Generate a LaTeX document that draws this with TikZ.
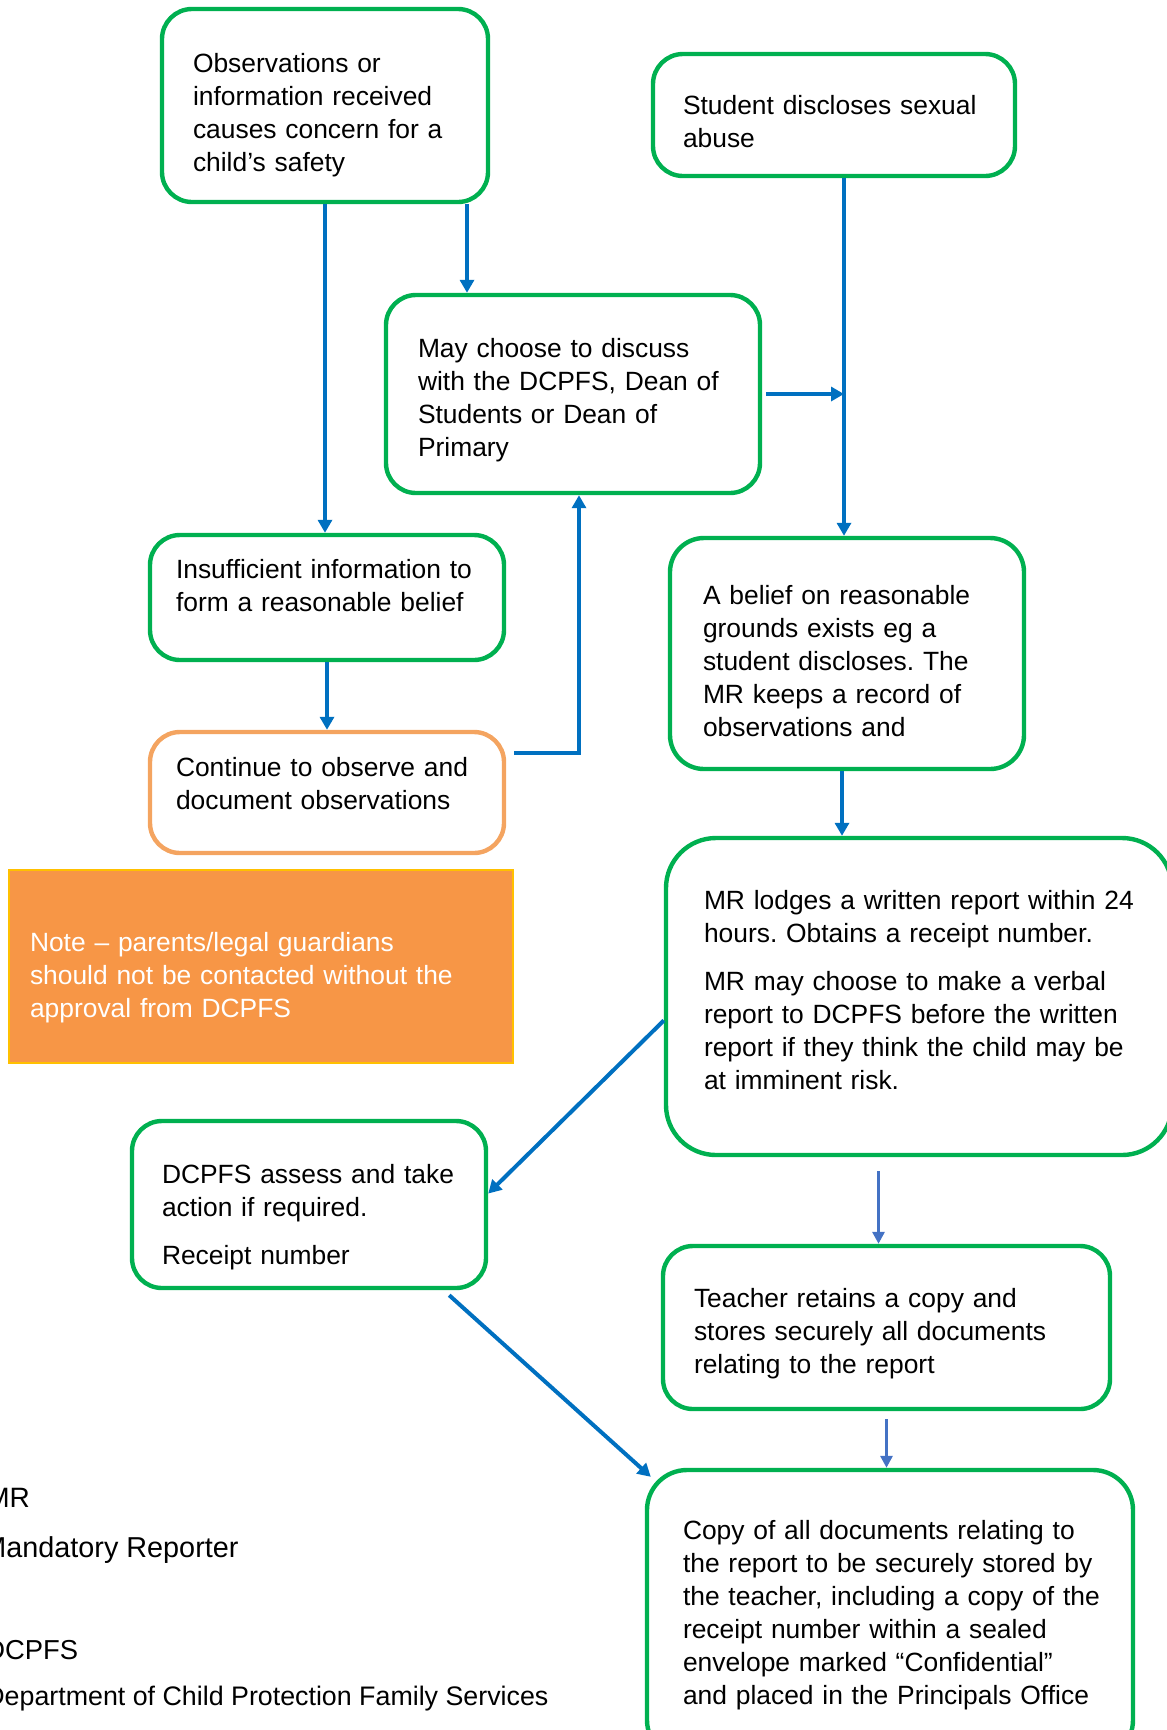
\documentclass[tikz,border=0pt]{standalone}
\usepackage{fontspec}
\setmainfont{Liberation Sans}
\usetikzlibrary{arrows.meta,calc}
\definecolor{boxgreen}{HTML}{00B050}
\definecolor{arrblue}{HTML}{0070C0}
\definecolor{arrlight}{HTML}{4472C4}
\definecolor{obsorange}{HTML}{F4A460}
\definecolor{notefill}{HTML}{F79646}
\definecolor{noteline}{HTML}{FFC000}
\frenchspacing
% struts that push a box's text down (top) or up (bottom)
\newcommand{\toppad}[1]{\rule{0pt}{#1}}
\newcommand{\botpad}[1]{\rule[-#1]{0pt}{0pt}}

\begin{document}
\begin{tikzpicture}[x=0.5pt, y=-0.5pt,
	font=\fontsize{13.2}{16.5}\selectfont,
	box/.style={draw=boxgreen, line width=2.2pt, rounded corners=15pt, fill=white, align=left, inner ysep=0pt},
	arr/.style={draw=arrblue, line width=2pt, -{Triangle[width=7pt,length=6.5pt]}},
	arrlt/.style={draw=arrlight, line width=1.6pt, -{Triangle[width=6pt,length=6pt]}},
	legend/.style={anchor=west, inner sep=0pt}]
		\useasboundingbox (0,0) rectangle (1167,1730);
		
		\node[box, minimum width=163pt, minimum height=96.5pt, inner xsep=15.5pt, text width=132pt] (obs) at (325,105.5) {\toppad{19.6pt}Observations or\\ information received\\ causes concern for a\\ child’s safety};
		\node[box, minimum width=181pt, minimum height=61pt, inner xsep=15pt, text width=151pt] (disclose) at (834,115) {\toppad{16pt}Student discloses sexual\\ abuse};
		\node[box, minimum width=187pt, minimum height=99pt, inner xsep=16pt, text width=155pt] (discuss) at (573,394) {\toppad{16pt}May choose to discuss\\ with the DCPFS, Dean of\\ Students or Dean of\\ Primary};
		\node[box, minimum width=177pt, minimum height=62.5pt, inner xsep=13pt, text width=151pt] (insuff) at (327,597.5) {Insufficient information to\\ form a reasonable belief\botpad{12pt}};
		\node[box, draw=obsorange, minimum width=177pt, minimum height=60.5pt, inner xsep=13pt, text width=151pt] (observe) at (327,792.5) {Continue to observe and\\ document observations\botpad{9pt}};
		\node[draw=noteline, fill=notefill, line width=1pt, text=white, align=left, minimum width=252pt, minimum height=96.5pt, inner xsep=10.5pt, inner ysep=0pt, text width=231pt] (note) at (261,966.5) {\toppad{20.5pt}Note – parents/legal guardians\\ should not be contacted without the\\ approval from DCPFS};
		\node[box, minimum width=177pt, minimum height=115.5pt, inner xsep=16.5pt, text width=144pt, rounded corners=17pt] (belief) at (847,653.5) {\toppad{17pt}A belief on reasonable\\ grounds exists eg a\\ student discloses. The\\ MR keeps a record of\\ observations and};
		\node[box, minimum width=253pt, minimum height=158.5pt, inner xsep=19pt, text width=215pt, rounded corners=25pt] (lodge) at (919,996.5) {MR lodges a written report within 24\\ hours. Obtains a receipt number.\\[7.5pt] MR may choose to make a verbal\\ report to DCPFS before the written\\ report if they think the child may be\\ at imminent risk.\botpad{6.5pt}};
		\node[box, minimum width=177pt, minimum height=83.5pt, inner xsep=15pt, text width=147pt] (assess) at (309,1204.5) {\toppad{22pt}DCPFS assess and take\\ action if required.\\[7.5pt] Receipt number};
		\node[box, minimum width=223.5pt, minimum height=81.5pt, inner xsep=15.5pt, text width=192.5pt] (retain) at (886.5,1327.5) {\toppad{16pt}Teacher retains a copy and\\ stores securely all documents\\ relating to the report};
		\node[box, minimum width=243pt, minimum height=145pt, inner xsep=18pt, text width=207pt, rounded corners=20pt] (copy) at (890,1615) {\mbox{Copy of all documents relating to}\\ \mbox{the report to be securely stored by}\\ \mbox{the teacher, including a copy of the}\\ receipt number within a sealed\\ envelope marked “Confidential”\\ \mbox{and placed in the Principals Office}};
		
		\node[legend, font=\fontsize{14}{16.5}\selectfont] (mr) at (-14,1498) {MR};
		\node[legend, font=\fontsize{14.4}{16.5}\selectfont] (mrlong) at (-18,1550) {Mandatory Reporter};
		\node[legend, font=\fontsize{13.7}{16.5}\selectfont] (dc) at (-15,1650) {DCPFS};
		\node[legend, font=\fontsize{13.4}{16.5}\selectfont] (dclong) at (-15,1699) {Department of Child Protection Family Services};
		
		\coordinate (o2) at ([xshift=71pt]obs.south);
		\coordinate (d1) at ([xshift=5pt]disclose.south);
		\coordinate (join) at (d1 |- discuss.east);
		\coordinate (o5) at ([xshift=4pt,yshift=20pt]observe.east);
		\coordinate (b1) at ([xshift=-2.5pt]belief.south);
		\coordinate (r1) at ([xshift=-4pt]retain.north);
		
		\draw[arr] (obs.south) -- (obs.south |- insuff.north);
		\draw[arr] (o2) -- (o2 |- discuss.north);
		\draw[arr] (d1) -- (d1 |- belief.north);
		\draw[arr] ([xshift=2pt]discuss.east) -- (join);
		\draw[arr] (insuff.south) -- (observe.north);
		\draw[arr] (o5) -| ([xshift=3pt]discuss.south);
		\draw[arr] (b1) -- (b1 |- lodge.north);
		\draw[arr] ([yshift=-12pt]lodge.west) -- ([yshift=5.5pt]assess.east);
		\draw[arrlt, shorten <=7pt] (r1 |- lodge.south) -- (r1);
		\draw[arrlt, shorten <=4pt] (retain.south) -- (retain.south |- copy.north);
		\draw[arr] ([xshift=-19.5pt,yshift=-2.5pt]assess.south east) -- ([xshift=3pt,yshift=-4.5pt]copy.north west);
\end{tikzpicture}
\end{document}
